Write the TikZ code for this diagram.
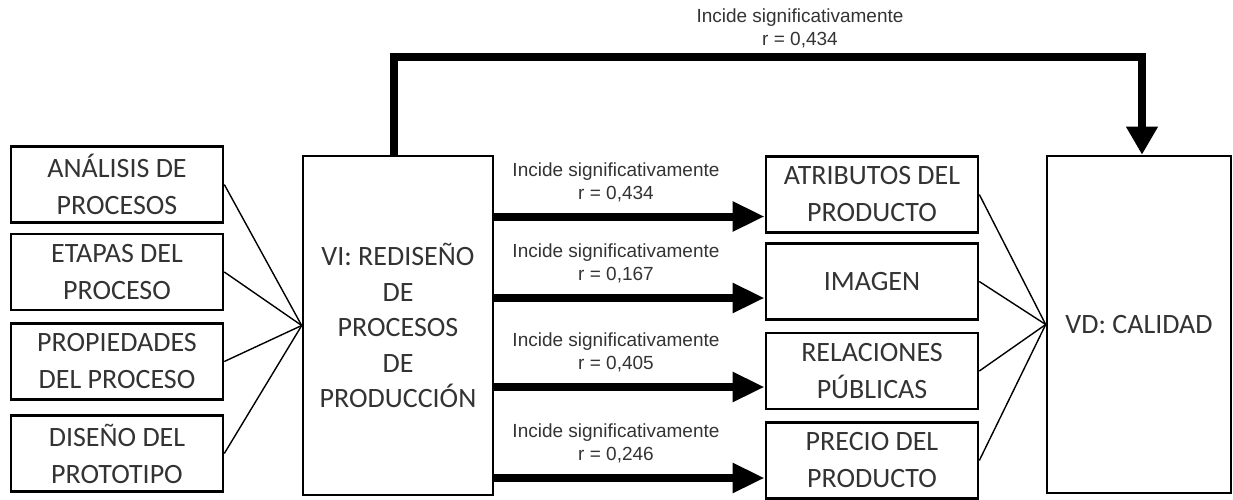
\documentclass[tikz,border=0pt]{standalone}
\usepackage{fontspec}
\setmainfont{Carlito}
\newfontfamily\lblfont{Liberation Sans}
\usetikzlibrary{arrows.meta}

\begin{document}
\begin{tikzpicture}[x=0.5pt,y=-0.5pt,
    box/.style={draw,line width=1.3pt,text=black!80,align=center,inner sep=0pt,
        font=\fontsize{14}{18.5}\selectfont},
    dim/.style={box,minimum width=106pt,minimum height=38pt},
    var/.style={box,minimum width=95pt,minimum height=169.5pt,
        font=\fontsize{14}{17.75}\selectfont},
    link/.style={line width=0.7pt},
    effect/.style={line width=4pt,-{Triangle[length=16pt,width=14pt]}},
    topeffect/.style={line width=4.2pt,-{Triangle[length=14pt,width=15pt]}},
    lbl/.style={text=black!80,align=center,inner sep=0pt,
        font=\lblfont\fontsize{9.5}{11.5}\selectfont}]
        \useasboundingbox (0,0) rectangle (1233,499); % picture frame
        % dimensions of the independent variable
        \node[dim] (anal) at (117,184.5) {ANÁLISIS DE\\PROCESOS};
        \node[dim] (etap) at (117,272) {ETAPAS DEL\\PROCESO};
        \node[dim] (prop) at (117,361.5) {PROPIEDADES\\DEL PROCESO};
        \node[dim] (dise) at (117,453.5) {DISEÑO DEL\\PROTOTIPO};
        \node[var] (vi) at (398,325.5) {VI: REDISEÑO\\DE\\PROCESOS\\DE\\PRODUCCIÓN}; % VI box
        % dimensions of the dependent variable
        \node[dim] (atri) at (872,194.5) {ATRIBUTOS DEL\\PRODUCTO};
        \node[dim] (imag) at (872,281.5) {IMAGEN};
        \node[dim] (rela) at (872,371) {RELACIONES\\PÚBLICAS};
        \node[dim] (prec) at (872,460.5) {PRECIO DEL\\PRODUCTO};
        \node[var,minimum width=92pt,minimum height=168.5pt] (vd) at (1139,324.5) {VD: CALIDAD}; % VD box
        % thin links into the variables
        \draw[link] (anal.east) -- (vi.west);
        \draw[link] (etap.east) -- (vi.west);
        \draw[link] (prop.east) -- (vi.west);
        \draw[link] (dise.east) -- (vi.west);
        \draw[link] (atri.east) -- (vd.west);
        \draw[link] (imag.east) -- (vd.west);
        \draw[link] (rela.east) -- (vd.west);
        \draw[link] (prec.east) -- (vd.west);
        % thick arrows with correlations
        \coordinate (e1) at ([yshift=-11pt]atri.west);
        \coordinate (e2) at ([yshift=-8.25pt]imag.west);
        \coordinate (e3) at ([yshift=-8pt]rela.west);
        \coordinate (e4) at ([yshift=-8.75pt]prec.west);
        \draw[effect] (vi.east |- e1) -- node[lbl,above=5.5pt,pos=0.45] {Incide significativamente\\r = 0,434} (e1);
        \draw[effect] (vi.east |- e2) -- node[lbl,above=5.5pt,pos=0.45] {Incide significativamente\\r = 0,167} (e2);
        \draw[effect] (vi.east |- e3) -- node[lbl,above=5.5pt,pos=0.45] {Incide significativamente\\r = 0,405} (e3);
        \draw[effect] (vi.east |- e4) -- node[lbl,above=5.5pt,pos=0.45] {Incide significativamente\\r = 0,246} (e4);
        % overall effect over the top
        \coordinate (ctop) at (1142,57);
        \draw[topeffect] ([xshift=-2pt]vi.north) |- (ctop) -- (ctop |- vd.north);
        \node[lbl] (rtop) at (800,28) {Incide significativamente\\r = 0,434};
    \end{tikzpicture}
\end{document}
